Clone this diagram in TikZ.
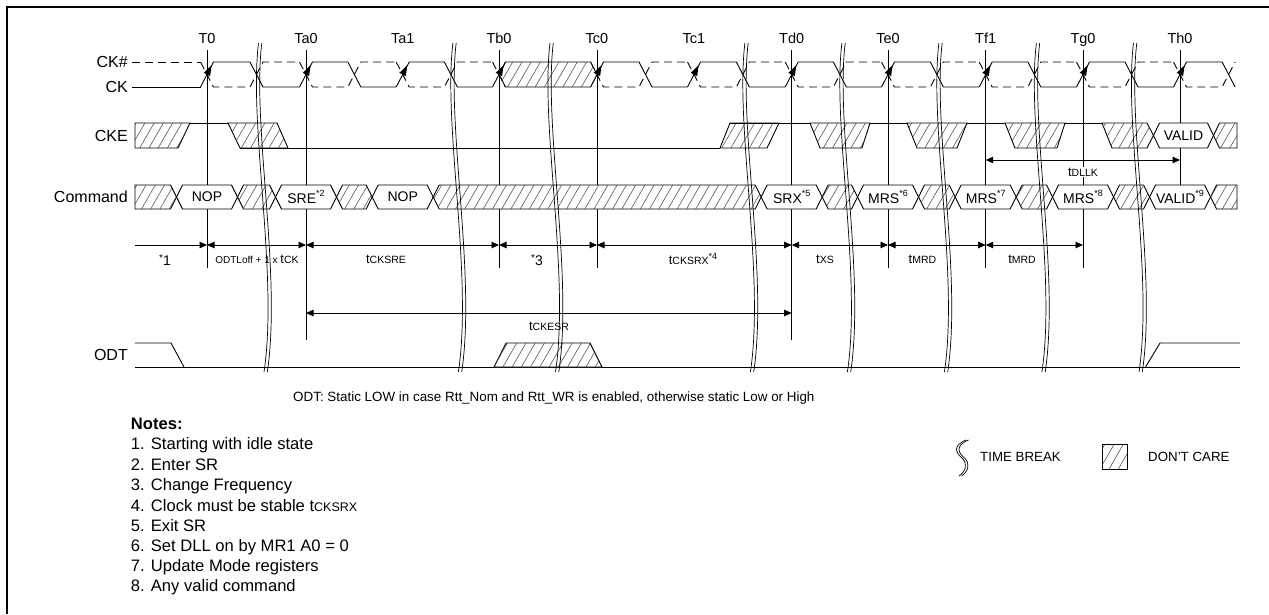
\documentclass[tikz,border=0pt]{standalone}
\usepackage{fontspec}
\setmainfont{Liberation Sans}
\usetikzlibrary{arrows.meta,patterns.meta}
\newcommand\fsz[1]{\fontsize{#1}{#1}\selectfont}
\newcommand\mysup[1]{\raisebox{0.5em}{\fsz{9}#1}}
\newcommand\tparam[1]{{\fsz{13}t}{\fsz{10.5}#1}}
\newcommand\busseg[6]{\draw[#1] (#2,#6) -- (#2+6,#4) -- (#3-6,#4) -- (#3,#6) -- (#3-6,#5) -- (#2+6,#5) -- cycle;}
\begin{document}
\begin{tikzpicture}[x=1pt,y=-1pt,
  sig/.style={line width=0.9pt},
  dsig/.style={line width=0.9pt,dash pattern=on 8pt off 5pt},
  hatch/.style={draw,line width=0.9pt,fill=white,postaction={pattern={Lines[angle=60,distance=8pt,line width=0.5pt]},pattern color=black!75}},
  bx/.style={draw,line width=0.9pt,fill=white},
  tarr/.style={line width=0.9pt,{Triangle[length=7.5pt,width=6.5pt]}-{Triangle[length=7.5pt,width=6.5pt]}},
  rarr/.style={line width=0.9pt,-{Triangle[length=7.5pt,width=6.5pt]}},
  brk/.style={line width=0.7pt},
  lbl/.style={font=\fsz{16},anchor=east,inner sep=0pt},
  tl/.style={font=\fsz{14.5},inner sep=0pt,anchor=base},
  bt/.style={font=\fsz{14},inner sep=0pt},
  ml/.style={inner sep=0pt},
  nt/.style={font=\fsz{16.6},anchor=base west,inner sep=0pt},
]
\useasboundingbox (0,0) rectangle (1269,614);
% frame
\draw[line width=2pt] (7,614) -- (7,7) -- (1269,7);

% signal names
\node[lbl] (lck1) at (128,62) {CK\#};
\node[lbl] (lck) at (128,87) {CK};
\node[lbl] (lcke) at (128,135.5) {CKE};
\node[lbl] (lcmd) at (128,197) {Command};
\node[lbl] (lodt) at (128,355) {ODT};

% T labels
\foreach \x/\n in {207/T0,306/Ta0,402.7/Ta1,499/Tb0,597/Tc0,694/Tc1,791.7/Td0,888/Te0,985.7/Tf1,1083/Tg0,1180/Th0}
  \node[tl] (l\n) at (\x,43.5) {\n};
% vertical time lines
\foreach \x/\yb in {207/268,306/340,499/268,597/268,791.7/340,888/268,985.7/268,1083/268,1180/185}
  \draw[sig] (\x,50) -- (\x,\yb);

% clock
\draw[sig] (132,87) -- (200.5,87);
\draw[dsig] (132,62) -- (200.5,62);
\foreach \a/\b in {207/306,306/402.7,402.7/499,597/694,694/791.7,791.7/888,888/985.7,985.7/1083,1083/1180}{
  \pgfmathsetmacro\ff{(\a+\b)/2}
  \draw[sig] (\a-6.5,87) -- (\a+6.5,62) -- (\ff-6.5,62) -- (\ff+6.5,87) -- (\b-6.5,87);
  \draw[dsig] (\a-6.5,62) -- (\a+6.5,87) -- (\ff-6.5,87) -- (\ff+6.5,62) -- (\b-6.5,62);
}
\draw[sig] (1173.5,87) -- (1186.5,62) -- (1222.1,62) -- (1235.1,87);
\draw[dsig] (1173.5,62) -- (1186.5,87) -- (1222.1,87) -- (1235.1,62);
\draw[hatch] (499,74.5) -- (505.5,62) -- (590.5,62) -- (597,74.5) -- (590.5,87) -- (505.5,87) -- cycle;
\draw[sig] (492.5,87) -- (505.5,62);
\draw[dsig] (492.5,62) -- (505.5,87);
\foreach \x in {207,306,402.7,499,597,694,791.7,888,985.7,1083,1180}
  \fill (\x+4.6,65.2) -- (\x+3.1,76.2) -- (\x-3.3,72.8) -- cycle;

% CKE
\draw[sig] (135,123) -- (277,123);
\draw[hatch] (135,123) -- (190,123) -- (178,148) -- (135,148) -- cycle;
\draw[hatch] (228,123) -- (277,123) -- (288,148) -- (240,148) -- cycle;
\draw[sig] (240,148) -- (720,148);
\draw[hatch] (720,148) -- (730,123) -- (779,123) -- (767,148) -- cycle;
\draw[sig] (730,123) -- (1147,123);
\draw[hatch] (810,123) -- (820,148) -- (862,148) -- (870,123) -- cycle;
\draw[hatch] (907,123) -- (917,148) -- (957,148) -- (967,123) -- cycle;
\draw[hatch] (1005,123) -- (1015,148) -- (1057,148) -- (1065,123) -- cycle;
\draw[hatch] (1102,123) -- (1112,148) -- (1147,148) -- (1153.5,135.5) -- (1147,123) -- cycle;
\busseg{bx}{1153.5}{1213.5}{123}{148}{135.5}
\node[bt] (cval) at (1183.5,135.5) {VALID};
\draw[hatch] (1213.5,135.5) -- (1219.5,123) -- (1237,123) -- (1237,148) -- (1219.5,148) -- cycle;

% tDLLK
\draw[tarr] (985.7,160) -- (1180,160);
\node[ml,fill=white,inner sep=1pt] (tdllk) at (1083,172) {\tparam{DLLK}};

% Command
\draw[hatch] (135,185) -- (170.5,185) -- (176.5,197) -- (170.5,209) -- (135,209) -- cycle;
\busseg{bx}{176.5}{237.5}{185}{209}{197}
\node[bt] (c1) at (207,197) {NOP};
\busseg{hatch}{237.5}{275.5}{185}{209}{197}
\busseg{bx}{275.5}{336.5}{185}{209}{197}
\node[bt] (c2) at (306,197) {SRE\mysup{*2}};
\busseg{hatch}{336.5}{372.2}{185}{209}{197}
\busseg{bx}{372.2}{433.2}{185}{209}{197}
\node[bt] (c3) at (402.7,197) {NOP};
\busseg{hatch}{433.2}{761.2}{185}{209}{197}
\busseg{bx}{761.2}{822.2}{185}{209}{197}
\node[bt] (c4) at (791.7,197) {SRX\mysup{*5}};
\busseg{hatch}{822.2}{857.5}{185}{209}{197}
\busseg{bx}{857.5}{918.5}{185}{209}{197}
\node[bt] (c5) at (888,197) {MRS\mysup{*6}};
\busseg{hatch}{918.5}{955.2}{185}{209}{197}
\busseg{bx}{955.2}{1016.2}{185}{209}{197}
\node[bt] (c6) at (985.7,197) {MRS\mysup{*7}};
\busseg{hatch}{1016.2}{1052.5}{185}{209}{197}
\busseg{bx}{1052.5}{1113.5}{185}{209}{197}
\node[bt] (c7) at (1083,197) {MRS\mysup{*8}};
\busseg{hatch}{1113.5}{1149.5}{185}{209}{197}
\busseg{bx}{1149.5}{1210.5}{185}{209}{197}
\node[bt] (c8) at (1180,197) {VALID\mysup{*9}};
\draw[hatch] (1210.5,197) -- (1216.5,185) -- (1237,185) -- (1237,209) -- (1216.5,209) -- cycle;

% timing row
\coordinate (ts) at (135,245);
\coordinate (t0) at (207,245);
\draw[rarr] (ts) -- (t0);
\foreach \a/\b in {207/306,306/499,499/597,597/791.7,791.7/888,888/985.7,985.7/1083}
  \draw[tarr] (\a,245) -- (\b,245);
\node[ml] (n1) at (165,260) {\fsz{14}\raisebox{0.3em}{\fsz{10}*}1};
\node[ml] (n2) at (257,259) {\fsz{10}ODTLoff + 1 x \tparam{CK}};
\node[ml] (n3) at (386,259) {\tparam{CKSRE}};
\node[ml] (n4) at (537,260) {\fsz{14}\raisebox{0.3em}{\fsz{10}*}3};
\node[ml] (n5) at (693,259) {\tparam{CKSRX}\mysup{*4}};
\node[ml] (n6) at (825,259) {\tparam{XS}};
\node[ml] (n7) at (922.5,259) {\tparam{MRD}};
\node[ml] (n8) at (1022,259) {\tparam{MRD}};
\draw[tarr] (306,313) -- (791.7,313);
\node[ml] (n9) at (549,326) {\tparam{CKESR}};

% ODT
\draw[sig] (135,343) -- (171,343) -- (184,367);
\draw[sig] (135,367) -- (1240,367);
\draw[hatch] (494,367) -- (506,343) -- (590,343) -- (602,367) -- cycle;
\draw[sig] (1145.6,367) -- (1160,343) -- (1240,343);
\node[ml,anchor=base west,font=\fsz{13.4}] (odtnote) at (293,401.5) {ODT: Static LOW in case Rtt\_Nom and Rtt\_WR is enabled, otherwise static Low or High};

% time breaks
\foreach \f in {256.5,450.9,548,742.9,839.9,936.9,1034.4,1131.5}{
  \draw[brk] (\f+2,43) .. controls (\f-8,125) and (\f+22,275) .. (\f+7.5,372);
  \draw[brk] (\f+5.3,43) .. controls (\f-4.7,125) and (\f+25.3,275) .. (\f+10.8,372);
}

% notes
\node[nt,font=\fsz{16.6}\bfseries] (nh) at (130.7,429) {Notes:};
\node[nt] (m1) at (130.7,449.5) {1. Starting with idle state};
\node[nt] (m2) at (130.7,470) {2. Enter SR};
\node[nt] (m3) at (130.7,490.5) {3. Change Frequency};
\node[nt] (m4) at (130.7,511) {4. Clock must be stable t{\fsz{12.5}CKSRX}};
\node[nt] (m5) at (130.7,531) {5. Exit SR};
\node[nt] (m6) at (130.7,551) {6. Set DLL on by MR1 A0 = 0};
\node[nt] (m7) at (130.7,571.5) {7. Update Mode registers};
\node[nt] (m8) at (130.7,591.5) {8. Any valid command};

% legend
\draw[brk] (966,440) .. controls (952,446) and (956,453) .. (962,458) .. controls (968,464) and (966,471) .. (959,476);
\draw[brk] (968.5,440) .. controls (954.5,446) and (958.5,453) .. (964.5,458) .. controls (970.5,464) and (968.5,471) .. (961.5,476);
\node[ml,anchor=west,font=\fsz{13.3}] (ltb) at (980,457) {TIME BREAK};
\draw[hatch] (1102,444) rectangle (1127,469);
\node[ml,anchor=west,font=\fsz{13.3}] (ldc) at (1148,457) {DON'T CARE};
\end{tikzpicture}
\end{document}
